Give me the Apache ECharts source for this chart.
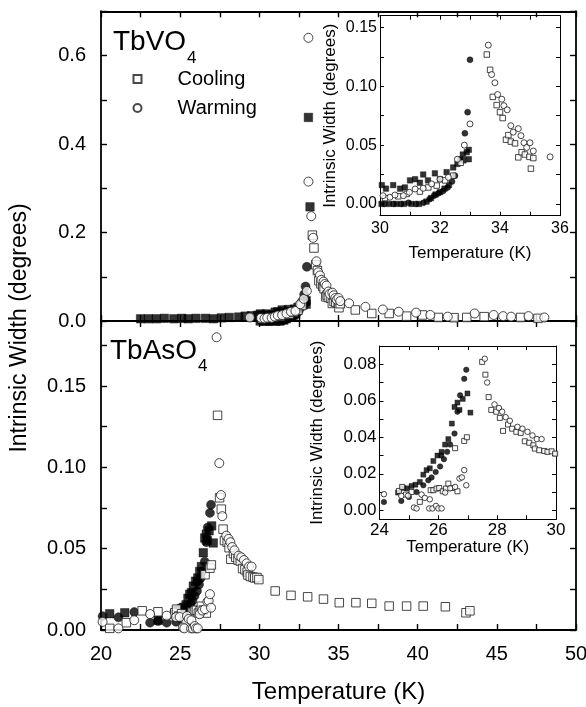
<!DOCTYPE html>
<html><head><meta charset="utf-8">
<script src="https://cdn.jsdelivr.net/npm/echarts@6/dist/echarts.min.js"></script>
<style>html,body{margin:0;padding:0;background:#fff}#c{width:586px;height:707px}</style>
</head><body><div id="c"></div>
<script>
const FONT = '"Liberation Sans", Arial, Helvetica, sans-serif';

// ---------- tick labels ----------
const mainXLabels = [20, 25, 30, 35, 40, 45, 50];
const vo4YLabels = [0, 0.2, 0.4, 0.6];
const as4YLabels = [0, 0.05, 0.10, 0.15];
const vo4InsetXLabels = [30, 32, 34, 36];
const vo4InsetYLabels = [0, 0.05, 0.10, 0.15];
const as4InsetXLabels = [24, 26, 28, 30];
const as4InsetYLabels = [0, 0.02, 0.04, 0.06, 0.08];

// ---------- TbVO4 data [T (K), width (deg)] ----------
const vo4FilledSquares = [
 [22.5,0.005],[23.0,0.005],[23.5,0.005],[24.0,0.006],[24.6,0.005],[25.1,0.006],[25.5,0.005],[26.0,0.006],
 [26.6,0.006],[27.1,0.005],[27.6,0.007],[28.1,0.008],[28.7,0.009],[29.1,0.011],[29.5,0.012],[29.9,0.013],
 [30.06,0.016],[30.2,0.013],[30.44,0.016],[30.67,0.013],[30.83,0.014],[31.0,0.020],[31.17,0.021],[31.33,0.018],
 [31.44,0.025],[31.6,0.020],[31.83,0.026],[32.0,0.021],[32.22,0.027],[32.44,0.031],[32.58,0.034],[32.67,0.038],
 [32.76,0.042],[32.78,0.037],[32.89,0.044],[32.96,0.046],[32.96,0.038],
 [30.05,0.0],[30.3,0.0],[30.55,0.0],[30.8,0.0],[31.05,0.0],[31.3,0.0],[31.55,0.002],[31.7,0.005],
 [31.85,0.008],[32.0,0.010],[32.15,0.013],[32.3,0.016],
 [33.1,0.46],[33.2,0.258]
];
const vo4FilledCircles = [
 [30.15,0.0],[30.45,0.0],[30.7,0.0],[30.95,0.001],[31.2,0.0],[31.45,0.001],[31.65,0.004],[31.8,0.007],
 [31.95,0.009],[32.1,0.011],[32.25,0.014],[32.4,0.019],[32.5,0.024],
 [32.83,0.060],[32.92,0.078],[33.0,0.1225]
];
const vo4OpenSquares = [
 [30.17,0.005],[30.61,0.0065],[30.89,0.0085],[31.33,0.0105],[31.61,0.014],[31.89,0.0156],[32.17,0.020],
 [32.44,0.024],[32.69,0.035],
 [33.35,0.194],[33.45,0.165],
 [33.56,0.127],[33.67,0.114],[33.76,0.091],[33.89,0.084],[34.0,0.078],[34.09,0.073],[34.2,0.0546],
 [34.28,0.0585],[34.36,0.053],[34.5,0.0515],[34.61,0.0396],[34.72,0.0439],[34.83,0.042],[34.98,0.040],
 [35.03,0.030],[35.11,0.039],
 [36.06,0.025],[37.1,0.017],[38.2,0.017],[39.3,0.011],[40.3,0.0136],[41.3,0.008],[42.3,0.0075],
 [43.1,0.008],[44.2,0.0098],[46.5,0.008],[47.6,0.006]
];
const vo4OpenCircles = [
 [29.4,0.008],
 [30.1,0.007],[30.33,0.0057],[30.5,0.0076],[30.78,0.007],[30.98,0.0099],[31.17,0.0127],[31.44,0.0133],
 [31.72,0.017],[32.0,0.021],[32.28,0.0226],[32.58,0.038],[32.81,0.050],[33.0,0.068],
 [33.1,0.64],[33.1,0.315],[33.28,0.237],[33.4,0.188],
 [33.61,0.135],[33.72,0.110],[33.83,0.103],[33.92,0.093],[34.06,0.089],[34.13,0.0835],[34.24,0.080],
 [34.36,0.0665],[34.44,0.061],[34.61,0.064],[34.7,0.058],[34.8,0.052],[34.89,0.048],[35.0,0.052],
 [35.11,0.045],[35.67,0.040],
 [36.7,0.032],[37.8,0.026],[38.8,0.021],[39.9,0.019],[40.8,0.0136],[41.9,0.0098],[43.6,0.017],
 [44.8,0.0136],[45.4,0.011],[45.9,0.0098],[47.0,0.011],[48.0,0.008]
];

// ---------- TbAsO4 data [T (K), width (deg)] ----------
const as4FilledSquares = [
 [20.55,0.010],[21.5,0.0106],[23.6,0.006],
 [24.63,0.0097],[24.8,0.0122],[24.94,0.012],[25.09,0.0133],[25.22,0.014],[25.37,0.0155],[25.49,0.0195],
 [25.6,0.022],[25.71,0.023],[25.83,0.027],[25.97,0.030],[26.11,0.032],[26.23,0.036],[26.34,0.039],
 [26.46,0.0475],[26.55,0.0566],[26.65,0.059],[26.72,0.055],[26.83,0.061],[26.99,0.064],[27.09,0.0535]
];
const as4FilledCircles = [
 [20.1,0.0085],[21.1,0.0078],[22.1,0.011],[23.1,0.0045],[23.6,0.0055],[24.15,0.0045],
 [24.74,0.0051],[25.0,0.0073],[25.26,0.010],[25.49,0.0137],[25.66,0.0164],[25.77,0.018],[25.91,0.021],
 [26.06,0.024],[26.1,0.030],[26.19,0.028],[26.3,0.032],[26.4,0.036],[26.55,0.042],[26.65,0.054],
 [26.74,0.063],[26.88,0.072],[26.95,0.077]
];
const as4OpenSquares = [
 [20.55,0.001],[21.6,0.0045],[22.6,0.0118],[23.6,0.0112],[24.66,0.0106],
 [24.77,0.0128],[24.9,0.0086],[25.09,0.010],[25.37,0.0046],[25.74,0.011],[25.83,0.011],[25.94,0.0119],
 [26.03,0.0122],[26.15,0.0104],[26.26,0.0119],[26.34,0.0146],[26.46,0.0122],[26.57,0.034],[26.65,0.0104],
 [26.88,0.038],[26.97,0.040],
 [27.36,0.132],
 [27.49,0.0813],[27.6,0.0743],[27.71,0.062],[27.8,0.055],[27.97,0.054],[28.09,0.0506],[28.2,0.0435],
 [28.37,0.047],[28.51,0.0447],[28.65,0.043],[28.8,0.0424],[28.94,0.0378],[29.09,0.037],[29.23,0.0356],
 [29.28,0.0338],[29.43,0.0329],[29.6,0.0325],[29.71,0.032],[29.85,0.0323],[29.97,0.031],
 [31.0,0.024],[32.0,0.0213],[33.05,0.0204],[34.05,0.019],[35.05,0.0168],[36.1,0.0168],[37.1,0.0164],
 [38.2,0.0147],[39.3,0.0147],[40.35,0.0147],[41.75,0.0143],[43.05,0.0106],[43.3,0.0118]
];
const as4OpenCircles = [
 [20.1,0.005],[21.1,0.001],[22.1,0.006],[23.1,0.0098],[24.15,0.0088],
 [24.74,0.0079],[24.97,0.008],[25.17,0.0015],[25.26,0.001],[25.43,0.0086],[25.54,0.0068],[25.69,0.001],
 [25.71,0.006],[25.8,0.001],[25.92,0.0024],[26.0,0.001],[26.11,0.001],[26.23,0.0097],[26.4,0.012],
 [26.57,0.0128],[26.72,0.0174],[26.8,0.018],[26.88,0.022],[26.95,0.0137],
 [27.3,0.18],[27.47,0.1026],
 [27.58,0.083],[27.66,0.070],[27.91,0.058],[28.06,0.056],[28.17,0.054],[28.29,0.051],[28.43,0.049],
 [28.69,0.0457],[28.86,0.0447],[29.03,0.043],[29.2,0.041],[29.35,0.039],[29.51,0.039]
];

// ---------- helpers ----------
function steps(a, b, d) { const r = []; for (let i = 0; a + i * d <= b + 1e-9; i++) r.push(+(a + i * d).toFixed(6)); return r; }

function mkAxis(gridIndex, position, min, max, ticks, labels, o) {
  const ax = {
    type: 'value', gridIndex, position, min, max,
    axisLine: { show: true, onZero: false, lineStyle: { color: '#000', width: o.lw } },
    axisTick: { show: true, inside: true, length: o.tl, customValues: ticks, lineStyle: { color: '#000', width: o.tw } },
    splitLine: { show: false },
    minorTick: { show: false },
    axisLabel: labels ? { show: true, customValues: labels, formatter: o.fmt, fontSize: o.fs,
      color: '#000', fontFamily: FONT, margin: o.margin } : { show: false }
  };
  if (o.name) {
    ax.name = o.name; ax.nameLocation = 'middle'; ax.nameGap = o.nameGap;
    ax.nameTextStyle = { fontSize: o.nfs, color: '#000', fontFamily: FONT };
  }
  return ax;
}

const mainX = { lw: 1.8, tw: 1.4, tl: 6, fs: 20, margin: 14, fmt: v => String(Math.round(v)) };
const insetX = { lw: 1, tw: 1, tl: 4, fs: 16, margin: 5, fmt: v => String(Math.round(v)) };

const xAxis = [
  mkAxis(0, 'bottom', 20, 50, steps(20, 50, 2.5), null, mainX),
  mkAxis(0, 'top', 20, 50, steps(20, 50, 2.5), null, mainX),
  mkAxis(1, 'bottom', 20, 50, steps(20, 50, 2.5), mainXLabels,
    Object.assign({}, mainX, { name: 'Temperature (K)', nameGap: 50, nfs: 24 })),
  mkAxis(1, 'top', 20, 50, steps(20, 50, 2.5), null, mainX),
  mkAxis(2, 'bottom', 30, 36, steps(30, 36, 1), vo4InsetXLabels,
    Object.assign({}, insetX, { name: 'Temperature (K)', nameGap: 29, nfs: 17 })),
  mkAxis(2, 'top', 30, 36, steps(30, 36, 1), null, insetX),
  mkAxis(3, 'bottom', 24, 30, steps(24, 30, 1), as4InsetXLabels,
    Object.assign({}, insetX, { fs: 17, margin: 2, name: 'Temperature (K)', nameGap: 18, nfs: 17 })),
  mkAxis(3, 'top', 24, 30, steps(24, 30, 1), null, insetX)
];

const yAxis = [
  mkAxis(0, 'left', 0, 0.7, steps(0, 0.7, 0.1), vo4YLabels, Object.assign({}, mainX, { margin: 15, fmt: v => v.toFixed(1) })),
  mkAxis(0, 'right', 0, 0.7, steps(0, 0.7, 0.1), null, mainX),
  mkAxis(1, 'left', 0, 0.19, steps(0, 0.19, 0.025), as4YLabels, Object.assign({}, mainX, { margin: 15, fmt: v => v.toFixed(2) })),
  mkAxis(1, 'right', 0, 0.19, steps(0, 0.19, 0.025), null, mainX),
  mkAxis(2, 'left', -0.01, 0.16, steps(0, 0.16, 0.025), vo4InsetYLabels,
    Object.assign({}, insetX, { margin: 3, fmt: v => v.toFixed(2), name: 'Intrinsic Width (degrees)', nameGap: 41, nfs: 17 })),
  mkAxis(2, 'right', -0.01, 0.16, steps(0, 0.16, 0.025), null, insetX),
  mkAxis(3, 'left', -0.005, 0.09, steps(0, 0.09, 0.01), as4InsetYLabels,
    Object.assign({}, insetX, { fs: 17, margin: 3, fmt: v => v.toFixed(2), name: 'Intrinsic Width (degrees)', nameGap: 54, nfs: 17 })),
  mkAxis(3, 'right', -0.005, 0.09, steps(0, 0.09, 0.01), null, insetX)
];

const filled = { color: '#000', borderColor: '#000', borderWidth: 0.5 };
const open = { color: '#fff', borderColor: '#1a1a1a', borderWidth: 1 };

function group(ax, sets, size, clip) {
  const defs = [
    ['Cooling (filled)', 'rect', filled, sets[0]],
    ['Warming (filled)', 'circle', filled, sets[1]],
    ['Cooling', 'rect', open, sets[2]],
    ['Warming', 'circle', open, sets[3]]
  ];
  return defs.map(([name, symbol, style, data]) => ({
    type: 'scatter', name, xAxisIndex: ax, yAxisIndex: ax, symbol,
    symbolSize: symbol === 'rect' ? size - 0.5 : size, itemStyle: style, data, clip,
    emphasis: { disabled: true }, animation: false
  }));
}

const vo4Sets = [vo4FilledSquares, vo4FilledCircles, vo4OpenSquares, vo4OpenCircles];
const as4Sets = [as4FilledSquares, as4FilledCircles, as4OpenSquares, as4OpenCircles];

const series = [].concat(
  group(0, vo4Sets, 9, false),
  group(2, as4Sets, 9, false),
  group(4, vo4Sets, 6, true),
  group(6, as4Sets, 5.5, true)
);

const option = {
  animation: false,
  backgroundColor: '#fff',
  textStyle: { fontFamily: FONT },
  grid: [
    { left: 101, top: 11.25, width: 475, height: 309.75, outerBoundsMode: 'none' },
    { left: 101, top: 321, width: 475, height: 309, outerBoundsMode: 'none' },
    { left: 380, top: 15.7, width: 180, height: 200, show: true, backgroundColor: '#fff', borderWidth: 0, outerBoundsMode: 'none' },
    { left: 379.5, top: 346, width: 176.5, height: 173.4, show: true, backgroundColor: '#fff', borderWidth: 0, outerBoundsMode: 'none' }
  ],
  xAxis, yAxis, series,
  legend: {
    show: true, orient: 'vertical', left: 127.5, top: 64, itemWidth: 8, itemHeight: 8, itemGap: 9,
    selectedMode: false,
    textStyle: { fontSize: 20, color: '#000', fontFamily: FONT, padding: [0, 0, 0, 31] },
    data: [{ name: 'Cooling', icon: 'rect' }, { name: 'Warming', icon: 'circle' }]
  },
  graphic: [
    { type: 'text', x: 20, y: 328, rotation: Math.PI / 2,
      style: { text: 'Intrinsic Width (degrees)', fontSize: 23, fontFamily: FONT, fill: '#000', align: 'center', verticalAlign: 'middle' } },
    { type: 'text', x: 113, y: 42,
      style: { text: 'TbVO', fontSize: 28, fontFamily: FONT, fill: '#000', align: 'left', verticalAlign: 'middle' } },
    { type: 'text', x: 187, y: 58,
      style: { text: '4', fontSize: 17, fontFamily: FONT, fill: '#000', align: 'left', verticalAlign: 'middle' } },
    { type: 'text', x: 110, y: 351,
      style: { text: 'TbAsO', fontSize: 28, fontFamily: FONT, fill: '#000', align: 'left', verticalAlign: 'middle' } },
    { type: 'text', x: 198, y: 366,
      style: { text: '4', fontSize: 17, fontFamily: FONT, fill: '#000', align: 'left', verticalAlign: 'middle' } }
  ]
};

const chart = echarts.init(document.getElementById('c'), null, { renderer: 'canvas' });
chart.setOption(option);
</script>
</body></html>
